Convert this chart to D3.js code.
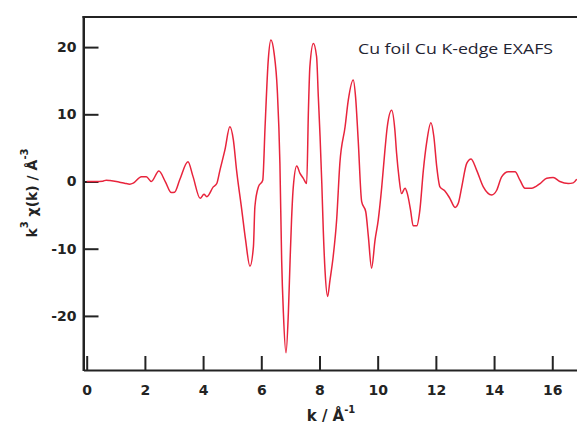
<!DOCTYPE html>
<html>
<head>
<meta charset="utf-8">
<script src="https://cdn.jsdelivr.net/npm/d3@7"></script>
<style>
  html, body { margin: 0; padding: 0; background: #fff; }
  svg { display: block; }
</style>
</head>
<body>
<svg id="chart" width="577" height="425"></svg>
<script>
// Photoelectron wavenumber k (Å^-1)
const kValues = [
  0, 0.3, 0.55, 0.67, 0.8, 1.13, 1.3, 1.48, 1.6, 1.88, 2.05, 2.22, 2.48, 2.7, 2.91, 3.02,
  3.2, 3.48, 3.65, 3.9, 4.03, 4.13, 4.35, 4.47, 4.58, 4.75, 4.92, 5.04, 5.15, 5.33, 5.46,
  5.61, 5.73, 5.78, 5.9, 6.05, 6.13, 6.24, 6.33, 6.44, 6.55, 6.64, 6.7, 6.76, 6.85, 6.93,
  6.99, 7.04, 7.1, 7.22, 7.33, 7.44, 7.56, 7.62, 7.67, 7.79, 7.9, 7.96, 8.02, 8.08, 8.13,
  8.19, 8.28, 8.36, 8.47, 8.59, 8.7, 8.88, 8.99, 9.16, 9.24, 9.33, 9.45, 9.59, 9.68, 9.79,
  9.91, 10.02, 10.14, 10.25, 10.33, 10.48, 10.59, 10.65, 10.73, 10.82, 10.94, 11.02, 11.13,
  11.22, 11.34, 11.45, 11.57, 11.68, 11.83, 11.93, 12.03, 12.14, 12.31, 12.48, 12.66, 12.77,
  12.89, 13.06, 13.21, 13.4, 13.63, 13.92, 14.09, 14.26, 14.49, 14.72, 14.89, 15.06, 15.29,
  15.58, 15.81, 16.03, 16.26, 16.55, 16.72, 16.84
];

// k^3-weighted EXAFS oscillation k^3·χ(k) (Å^-3)
const chiValues = [
  0, 0, 0.05, 0.2, 0.15, -0.1, -0.25, -0.4, -0.25, 0.7, 0.7, 0, 1.55, 0, -1.65, -1.6,
  0.3, 2.95, 0.8, -2.5, -1.9, -2.25, -0.8, -0.3, 1.7, 4.7, 8.15, 6.2, 1.7, -4.25, -8.7,
  -12.6, -9.7, -3.75, -0.8, 0.2, 8.15, 18.1, 21.05, 19.1, 13.6, 2.7, -11.7, -19.6, -25.5, -19.6,
  -11.7, -5.7, -0.8, 2.3, 1.2, 0.5, -0.3, 10.6, 17.1, 20.55, 18.6, 12.6, 6.7, -0.3, -7.2,
  -13.2, -17.1, -14.7, -11.2, -5.7, 2.7, 8.15, 12.1, 15.1, 12.6, 6.2, -3.0, -4.5, -8.2, -12.9,
  -8.7, -5.7, -0.8, 4.7, 8.15, 10.6, 7.7, 4.2, 0.7, -1.8, -1.0, -1.8, -4.25,
  -6.6, -6.6, -4.25, 1.7, 5.7, 8.75, 6.7, 2.2, -0.8, -1.4, -2.5, -3.85, -3.25,
  -0.8, 2.7, 3.35, 1.7, -0.8, -2.0, -1.3, 0.7, 1.45, 1.45, 0.2, -1.0, -1.0,
  -0.3, 0.5, 0.6, 0, -0.3, -0.2, 0.35
];

const xTicks = [0, 2, 4, 6, 8, 10, 12, 14, 16];
const yTicks = [-20, -10, 0, 10, 20];
const titleText = "Cu foil Cu K-edge EXAFS";

const svg = d3.select("#chart");

const plotLeft = 83.5, plotRight = 577, plotTop = 17, plotBottom = 370;

const x = d3.scaleLinear().domain([-0.11, 16.85]).range([plotLeft, plotRight]);
const y = d3.scaleLinear().domain([-28.05, 24.48]).range([plotBottom, plotTop]);

const axisColor = "#232323";
const tickFont = "'DejaVu Sans', sans-serif";
const plainNumber = d => String(d);   // ASCII hyphen for negatives

// Bottom axis: inward ticks, bold labels
const gx = svg.append("g")
  .attr("transform", `translate(0,${plotBottom})`)
  .call(d3.axisBottom(x).tickValues(xTicks).tickSizeInner(-14).tickSizeOuter(0).tickPadding(15).tickFormat(plainNumber));

// Left axis: inward ticks, bold labels
const gy = svg.append("g")
  .attr("transform", `translate(${plotLeft},0)`)
  .call(d3.axisLeft(y).tickValues(yTicks).tickSizeInner(-15).tickSizeOuter(0).tickPadding(7).tickFormat(plainNumber));

[gx, gy].forEach(g => {
  g.select(".domain").attr("stroke", axisColor).attr("stroke-width", 2);
  g.selectAll(".tick line").attr("stroke", axisColor).attr("stroke-width", 2);
  g.selectAll(".tick text")
    .attr("fill", axisColor)
    .style("font-family", tickFont)
    .style("font-weight", "bold")
    .style("font-size", "14px");
});

// Top frame line
svg.append("line")
  .attr("x1", plotLeft - 1).attr("x2", plotRight)
  .attr("y1", plotTop).attr("y2", plotTop)
  .attr("stroke", axisColor).attr("stroke-width", 2);

// Left spine spanning the full frame height
svg.append("line")
  .attr("x1", plotLeft).attr("x2", plotLeft)
  .attr("y1", plotTop - 1).attr("y2", plotBottom + 1)
  .attr("stroke", axisColor).attr("stroke-width", 2);

// EXAFS trace
const pts = kValues.map((k, i) => [k, chiValues[i]]);
const line = d3.line()
  .x(d => x(d[0]))
  .y(d => y(d[1]))
  .curve(d3.curveMonotoneX);

svg.append("path")
  .datum(pts)
  .attr("d", line)
  .attr("fill", "none")
  .attr("stroke", "#e8243c")
  .attr("stroke-width", 1.5)
  .attr("stroke-linejoin", "round");

// Title inside the plot
svg.append("text")
  .attr("x", 358).attr("y", 54)
  .attr("textLength", 195)
  .attr("lengthAdjust", "spacingAndGlyphs")
  .style("font-family", "'Open Sans', sans-serif")
  .style("font-size", "14.5px")
  .attr("fill", "#1f2433")
  .text(titleText);

// X axis label: k / Å^-1
const xl = svg.append("text")
  .attr("x", 331).attr("y", 421)
  .attr("text-anchor", "middle")
  .style("font-family", tickFont)
  .style("font-weight", "bold")
  .style("font-size", "15px")
  .attr("fill", axisColor);
xl.append("tspan").text("k / Å");
xl.append("tspan").attr("dy", -8).style("font-size", "10px").text("-1");

// Y axis label: k^3 χ(k) / Å^-3
const yl = svg.append("text")
  .attr("transform", "translate(37,193) rotate(-90)")
  .attr("text-anchor", "middle")
  .style("font-family", tickFont)
  .style("font-weight", "bold")
  .style("font-size", "14px")
  .attr("fill", axisColor);
yl.append("tspan").text("k");
yl.append("tspan").attr("dy", -9).style("font-size", "10px").text("3");
yl.append("tspan").attr("dy", 9).text(" χ(k) / Å");
yl.append("tspan").attr("dy", -9).style("font-size", "10px").text("-3");
</script>
</body>
</html>
